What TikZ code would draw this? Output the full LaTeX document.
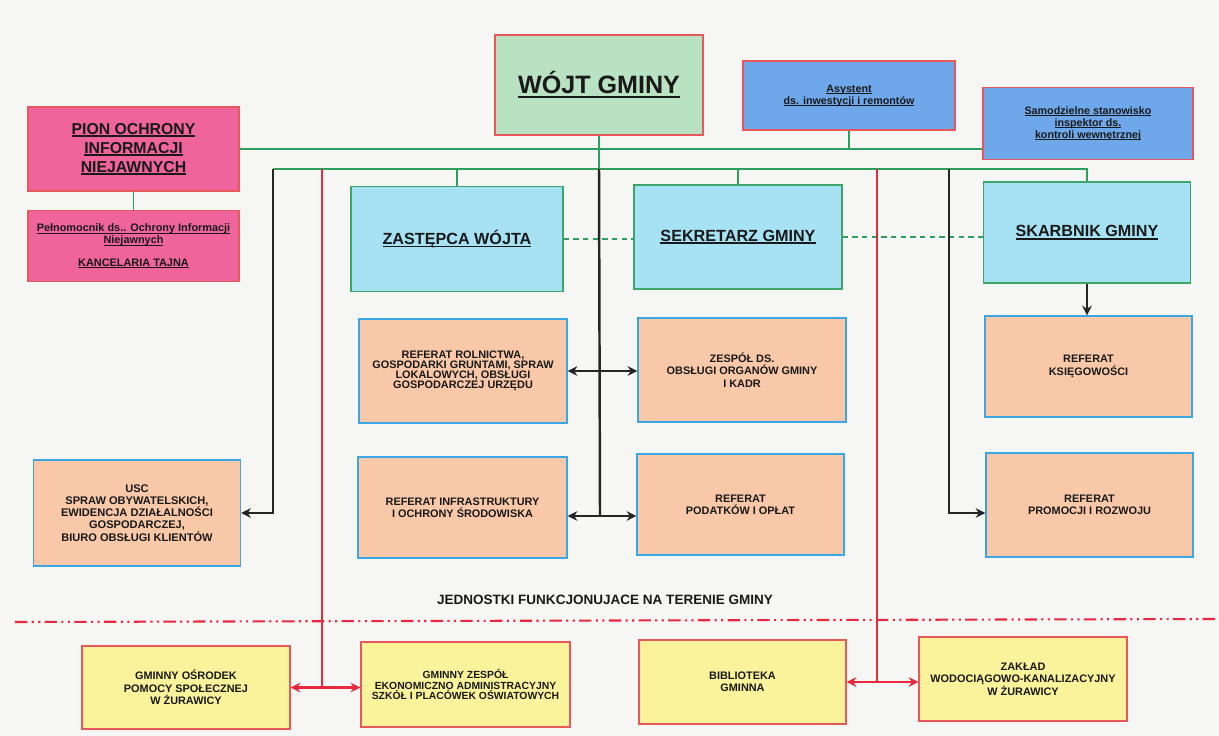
\documentclass[tikz,border=0pt]{standalone}
\usepackage{fontspec}
\setmainfont{Liberation Sans}
\usepackage{xcolor}
\usetikzlibrary{positioning, arrows.meta, calc}
\definecolor{cRAMA}{HTML}{E8585A}
\definecolor{cWOJT}{HTML}{B8E2C2}
\definecolor{cASYS}{HTML}{6EA8EA}
\definecolor{cPION}{HTML}{F0649C}
\definecolor{cKIER}{HTML}{A6E2F4}
\definecolor{cKIERR}{HTML}{3DA56A}
\definecolor{cREF}{HTML}{F8C8A8}
\definecolor{cREFR}{HTML}{3AA6E2}
\definecolor{cJEDN}{HTML}{FAF39C}
\definecolor{cLINK}{HTML}{2E9E5E}
\definecolor{cCZER}{HTML}{E8283C}
\definecolor{cTLO}{HTML}{F6F6F4}
\newcommand{\ulin}[1]{\setbox0=\hbox{#1}\leavevmode\rlap{\rule[-0.18em]{\wd0}{0.1em}}\box0}
\newcommand{\fref}{\fontsize{6.2}{7}\selectfont\bfseries}
\newcommand{\fkier}{\fontsize{9.2}{11}\selectfont\bfseries}
\tikzset{
  orgbox/.style={
    draw=#1, line width=0.8pt,
    inner sep=1pt,
    align=center,
    text=black!90,
    minimum width=4.14cm,
    minimum height=2.06cm
  },
  wojtbox/.style={orgbox=cRAMA, fill=cWOJT, font=\fontsize{14.3}{16}\selectfont\bfseries},
  asysbox/.style={orgbox=cRAMA, fill=cASYS, font=\fontsize{6.1}{6.9}\selectfont\bfseries},
  pionbox/.style={orgbox=cRAMA, fill=cPION, minimum width=4.22cm},
  kierbox/.style={orgbox=cKIERR, fill=cKIER, font=\fkier},
  refbox/.style={orgbox=cREFR, fill=cREF, font=\fref},
  jednbox/.style={orgbox=cRAMA, fill=cJEDN, minimum height=1.68cm, font=\fref},
  link/.style={draw=cLINK, line width=1.1pt},
  dlink/.style={link, dash pattern=on 3pt off 2.5pt},
  chain/.style={
    -{Stealth[length=5.5pt,width=5.5pt]},
    line width=1.4pt,
    draw=black!85
  },
  bothway/.style={chain, {Stealth[length=5.5pt,width=5.5pt]}-{Stealth[length=5.5pt,width=5.5pt]}},
  redline/.style={draw=cCZER, line width=1.2pt},
  redway/.style={redline, line width=1.4pt, {Stealth[length=5.5pt,width=5.5pt]}-{Stealth[length=5.5pt,width=5.5pt]}},
  sepline/.style={draw=cCZER, line width=1.2pt, dash pattern=on 7pt off 2.5pt on 1.2pt off 2.5pt on 1.2pt off 2.5pt}
}

\begin{document}
\begin{tikzpicture}[x=0.02cm, y=-0.02cm]
  \fill[cTLO] (0,0) rectangle (1219,736);
  \useasboundingbox (0,0) rectangle (1219,736);

  % kierownictwo
  \node[wojtbox, minimum width=4.16cm, minimum height=2cm] (wojt) at (599,85) {\ulin{WÓJT GMINY}};
  \node[asysbox, minimum width=4.24cm, minimum height=1.38cm] (asyst) at (849,95.5) {\ulin{Asystent}\\\ulin{ds. inwestycji i remontów}};
  \node[asysbox, minimum width=4.2cm, minimum height=1.44cm] (samodz) at (1088,123.5) {\ulin{Samodzielne stanowisko}\\\ulin{inspektor ds.}\\\ulin{kontroli wewnętrznej}};
  \node[pionbox, minimum height=1.68cm, font=\fontsize{9}{10.8}\selectfont\bfseries] (pion) at (133.5,149) {\ulin{PION OCHRONY}\\\ulin{INFORMACJI}\\\ulin{NIEJAWNYCH}};
  \node[pionbox, minimum height=1.42cm, font=\fontsize{6.2}{6.8}\selectfont\bfseries] (pelnom) at (133.5,246) {\ulin{Pełnomocnik ds.. Ochrony Informacji}\\\ulin{Niejawnych}\\[6pt]\ulin{KANCELARIA TAJNA}};

  \node[kierbox, minimum width=4.24cm, minimum height=2.1cm] (zast) at (457,239) {\ulin{ZASTĘPCA WÓJTA}};
  \node[kierbox, minimum width=4.16cm, minimum height=2.08cm] (sekr) at (738,237) {\ulin{SEKRETARZ GMINY}};
  \node[kierbox, minimum height=2.02cm] (skarb) at (1087,232.5) {\ulin{SKARBNIK GMINY}};

  % referaty
  \node[refbox, minimum width=4.16cm, minimum height=2.08cm, font=\fontsize{6.2}{5.6}\selectfont\bfseries] (rolnict) at (463,371) {REFERAT ROLNICTWA,\\GOSPODARKI GRUNTAMI, SPRAW\\LOKALOWYCH, OBSŁUGI\\GOSPODARCZEJ URZĘDU};
  \node[refbox, minimum width=4.16cm, minimum height=2.08cm] (zespol) at (742,370) {ZESPÓŁ DS.\\OBSŁUGI ORGANÓW GMINY\\I KADR};
  \node[refbox, minimum width=4.18cm, minimum height=2.02cm] (infra) at (462.5,507.5) {REFERAT INFRASTRUKTURY\\I OCHRONY ŚRODOWISKA};
  \node[refbox, minimum height=2.02cm] (podat) at (740.5,504.5) {REFERAT\\PODATKÓW I OPŁAT};
  \node[refbox, minimum height=2.12cm, font=\fontsize{6.3}{6.9}\selectfont\bfseries] (usc) at (137,513) {USC\\SPRAW OBYWATELSKICH,\\EWIDENCJA DZIAŁALNOŚCI\\GOSPODARCZEJ,\\BIURO OBSŁUGI KLIENTÓW};
  \node[refbox, minimum height=2.02cm] (ksieg) at (1088.5,366.5) {REFERAT\\KSIĘGOWOŚCI};
  \node[refbox, minimum height=2.08cm] (promo) at (1089.5,505) {REFERAT\\PROMOCJI I ROZWOJU};

  % jednostki
  \node[font=\fontsize{7.7}{9}\selectfont\bfseries, text=black!90] (jedn) at (605,600) {JEDNOSTKI FUNKCJONUJACE NA TERENIE GMINY};
  \draw[sepline] (15,622) -- (1215,619);
  \node[jednbox, minimum width=4.16cm, minimum height=1.66cm] (gops) at (186,687.5) {GMINNY OŚRODEK\\POMOCY SPOŁECZNEJ\\W ŻURAWICY};
  \node[jednbox, minimum width=4.18cm, minimum height=1.7cm, font=\fontsize{5.9}{6}\selectfont\bfseries] (gzeas) at (465.5,684.5) {GMINNY ZESPÓŁ\\EKONOMICZNO ADMINISTRACYJNY\\SZKÓŁ I PLACÓWEK OŚWIATOWYCH};
  \node[jednbox, minimum width=4.14cm] (bibl) at (742.5,682) {BIBLIOTEKA\\GMINNA};
  \node[jednbox, minimum width=4.16cm] (zakl) at (1023,679) {ZAKŁAD\\WODOCIĄGOWO-KANALIZACYJNY\\W ŻURAWICY};

  % szyny
  \coordinate (b2w) at (273,169);
  \coordinate (b2e) at (949,169);
  \coordinate (r1) at (322,169);
  \coordinate (r2) at (877,169);
  \coordinate (m2) at (600,516);

  \draw[link] (pion.east) -- (pion.east -| samodz.west);
  \draw[link] (asyst.south) -- (asyst.south |- pion.east);
  \draw[link] (pion.south) -- (pelnom.north);
  \draw[link] (b2w) -| (skarb.north);
  \draw[link] (zast.north) -- (zast.north |- b2w);
  \draw[link] (sekr.north) -- (sekr.north |- b2w);
  \draw[link] (wojt.south) -- (wojt.south |- b2w);
  \draw[dlink] (zast.east) -- (zast.east -| sekr.west);
  \draw[dlink] (sekr.east) -- (sekr.east -| skarb.west);

  \draw[chain] (b2w) |- (usc.east);
  \draw[chain] (b2e) |- (promo.west |- usc.east);
  \draw[chain] (skarb.south) -- (skarb.south |- ksieg.north);
  \draw[line width=1.4pt, draw=black!85] (wojt.south |- b2w) -- (m2);
  \draw[bothway] (rolnict.east) -- (rolnict.east -| zespol.west);
  \draw[bothway] (infra.east |- m2) -- (podat.west |- m2);

  \draw[redline] (r1) -- (r1 |- gops.east);
  \draw[redline] (r2) -- (r2 |- bibl.east);
  \draw[redway] (gops.east) -- (gops.east -| gzeas.west);
  \draw[redway] (bibl.east) -- (bibl.east -| zakl.west);
\end{tikzpicture}
\end{document}
